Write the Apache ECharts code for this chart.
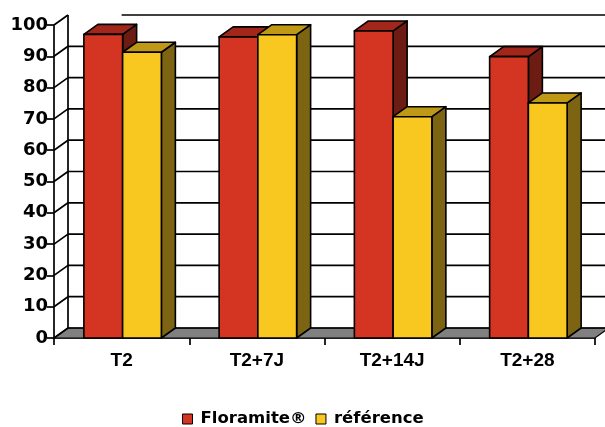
<!DOCTYPE html>
<html><head><meta charset="utf-8">
<script src="https://cdn.jsdelivr.net/npm/echarts@6/dist/echarts.min.js"></script>
<style>html,body{margin:0;padding:0;background:#fff}#c{width:605px;height:427px}</style>
</head><body><div id="c"></div>
<script>
const categories = ['T2', 'T2+7J', 'T2+14J', 'T2+28'];
const floramite = [97.0, 96.2, 98.1, 89.9];
const reference = [91.3, 96.9, 70.7, 75.1];
const valueTicks = [0, 10, 20, 30, 40, 50, 60, 70, 80, 90, 100];
const seriesNames = ['Floramite®', 'référence'];

const DX = 14, DY = -10;
const redColors = {front: '#D33522', top: '#A2261A', side: '#6C1C13'};
const yelColors = {front: '#F8C720', top: '#BF9915', side: '#7C6413'};

function barRender(idx, colors) {
  return function (params, api) {
    const cat = api.value(0), val = api.value(1);
    const top = api.coord([cat, val]);
    const base = api.coord([cat, 0]);
    const band = api.size([1, 0])[0];
    const w = band * 0.2865;
    const x0 = idx === 0 ? top[0] - w + 1 : top[0] + 1;
    const x1 = x0 + w;
    const yt = top[1], yb = base[1];
    const st = {stroke: '#000', lineWidth: 1.6, lineJoin: 'round'};
    return {type: 'group', children: [
      {type: 'polygon', shape: {points: [[x1, yt], [x1 + DX, yt + DY], [x1 + DX, yb + DY], [x1, yb]]}, style: Object.assign({fill: colors.side}, st)},
      {type: 'polygon', shape: {points: [[x0, yt], [x0 + DX, yt + DY], [x1 + DX, yt + DY], [x1, yt]]}, style: Object.assign({fill: colors.top}, st)},
      {type: 'rect', shape: {x: x0, y: yt, width: w, height: yb - yt}, style: Object.assign({fill: colors.front}, st)}
    ]};
  };
}

function wallRender(params, api) {
  const v = api.value(1);
  const band = api.size([1, 0])[0];
  const pL = api.coord([0, v]);
  const pR = api.coord([categories.length - 1, v]);
  const xl = pL[0] - band / 2, xr = pR[0] + band / 2, y = pL[1];
  const ls = {stroke: '#000', lineWidth: 1.7};
  const ch = [];
  if (v === valueTicks[0]) {
    ch.push({type: 'polygon', shape: {points: [[xl, y], [xr, y], [xr + DX, y + DY], [xl + DX, y + DY]]}, style: {fill: '#808080', stroke: '#000', lineWidth: 1.2}});
    const yTop = api.coord([0, valueTicks[valueTicks.length - 1]])[1];
    ch.push({type: 'line', shape: {x1: xl + DX, y1: y + DY, x2: xl + DX, y2: yTop + DY}, style: ls});
  }
  ch.push({type: 'line', shape: {x1: xl, y1: y, x2: xl + DX, y2: y + DY}, style: ls});
  const startX = (v === valueTicks[valueTicks.length - 1]) ? pL[0] : xl + DX;
  ch.push({type: 'line', shape: {x1: startX, y1: y + DY, x2: xr + DX, y2: y + DY}, style: ls});
  return {type: 'group', children: ch};
}

const chart = echarts.init(document.getElementById('c'));
chart.setOption({
  animation: false,
  backgroundColor: '#fff',
  color: [redColors.front, yelColors.front],
  grid: {left: 54, right: 10, top: 25, bottom: 89, containLabel: false},
  legend: {
    data: seriesNames,
    left: 177, top: 404,
    icon: 'rect', itemWidth: 10, itemHeight: 10, itemGap: 9,
    itemStyle: {borderColor: '#000', borderWidth: 1},
    textStyle: {fontFamily: 'DejaVu Sans', fontWeight: 'bold', fontSize: 16.5, color: '#000', lineHeight: 20, padding: [0, 0, 0, 3]}
  },
  xAxis: {
    type: 'category', data: categories,
    axisLine: {lineStyle: {color: '#000', width: 1.7}},
    axisTick: {show: true, length: 7, lineStyle: {color: '#000', width: 1.7}},
    axisLabel: {margin: 13, color: '#000', fontFamily: 'Liberation Sans', fontWeight: 'bold', fontSize: 19},
    splitLine: {show: false}
  },
  yAxis: {
    type: 'value', min: 0, max: 100, interval: 10,
    axisLine: {show: true, lineStyle: {color: '#000', width: 1.7}},
    axisTick: {show: true, length: 7, lineStyle: {color: '#000', width: 1.7}},
    axisLabel: {margin: 6, color: '#000', fontFamily: 'DejaVu Sans', fontWeight: 'bold', fontSize: 18},
    splitLine: {show: false}
  },
  series: [
    {type: 'custom', name: 'walls', z: 1, silent: true, clip: false,
     encode: {x: 0, y: 1},
     data: valueTicks.map(v => [0, v]), renderItem: wallRender},
    {type: 'custom', name: seriesNames[0], z: 3, clip: false,
     itemStyle: {color: redColors.front},
     encode: {x: 0, y: 1},
     data: floramite.map((v, i) => [i, v]), renderItem: barRender(0, redColors)},
    {type: 'custom', name: seriesNames[1], z: 4, clip: false,
     itemStyle: {color: yelColors.front},
     encode: {x: 0, y: 1},
     data: reference.map((v, i) => [i, v]), renderItem: barRender(1, yelColors)}
  ]
});
</script>
</body></html>
